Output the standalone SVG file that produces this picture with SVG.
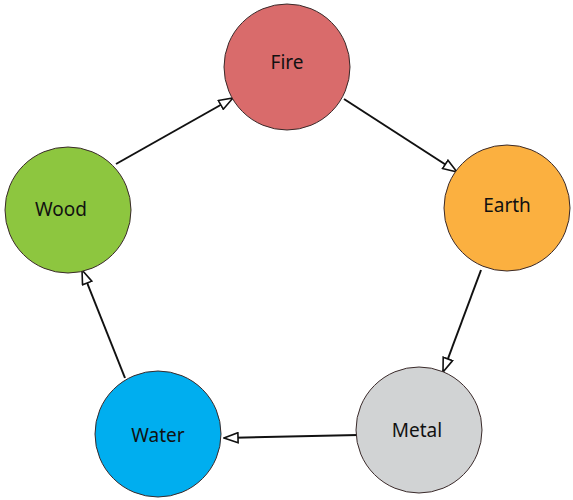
<svg xmlns="http://www.w3.org/2000/svg" width="573" height="500" viewBox="0 0 573 500">
<style>
.n{stroke:#3a2a2a;stroke-width:1}
.t{font-family:"Noto Sans","Liberation Sans",sans-serif;font-size:19px;font-weight:normal;fill:#111;text-anchor:middle;dominant-baseline:central}
.c{stroke:#111;stroke-width:2;fill:none;marker-end:url(#a)}
</style>
<defs>
<marker id="a" viewBox="0 0 16 12" refX="15" refY="6" markerWidth="8" markerHeight="6" orient="auto" markerUnits="strokeWidth">
<path d="M1,1 L15,6 L1,11 Z" fill="#fff" stroke="#111" stroke-width="1.6"/>
</marker>
</defs>
<rect width="573" height="500" fill="#fff"/>
<g id="connectors">
<line class="c" x1="116" y1="164" x2="233" y2="98"/>
<line class="c" x1="344" y1="99" x2="457" y2="172"/>
<line class="c" x1="481" y1="270" x2="443" y2="372"/>
<line class="c" x1="358" y1="435" x2="224" y2="438"/>
<line class="c" x1="125" y1="378" x2="82" y2="270"/>
</g>
<g id="fire"><circle class="n" cx="287" cy="67" r="63" fill="#d96b6b"/><text class="t" x="287" y="62">Fire</text></g>
<g id="earth"><circle class="n" cx="507" cy="208" r="63" fill="#fbb040"/><text class="t" x="507" y="205">Earth</text></g>
<g id="metal"><circle class="n" cx="419" cy="430" r="63" fill="#d1d3d4"/><text class="t" x="417" y="430">Metal</text></g>
<g id="water"><circle class="n" cx="158" cy="434" r="63" fill="#00aeef"/><text class="t" x="158" y="435">Water</text></g>
<g id="wood"><circle class="n" cx="68" cy="210" r="63" fill="#8dc63f"/><text class="t" x="61" y="209">Wood</text></g>
</svg>
